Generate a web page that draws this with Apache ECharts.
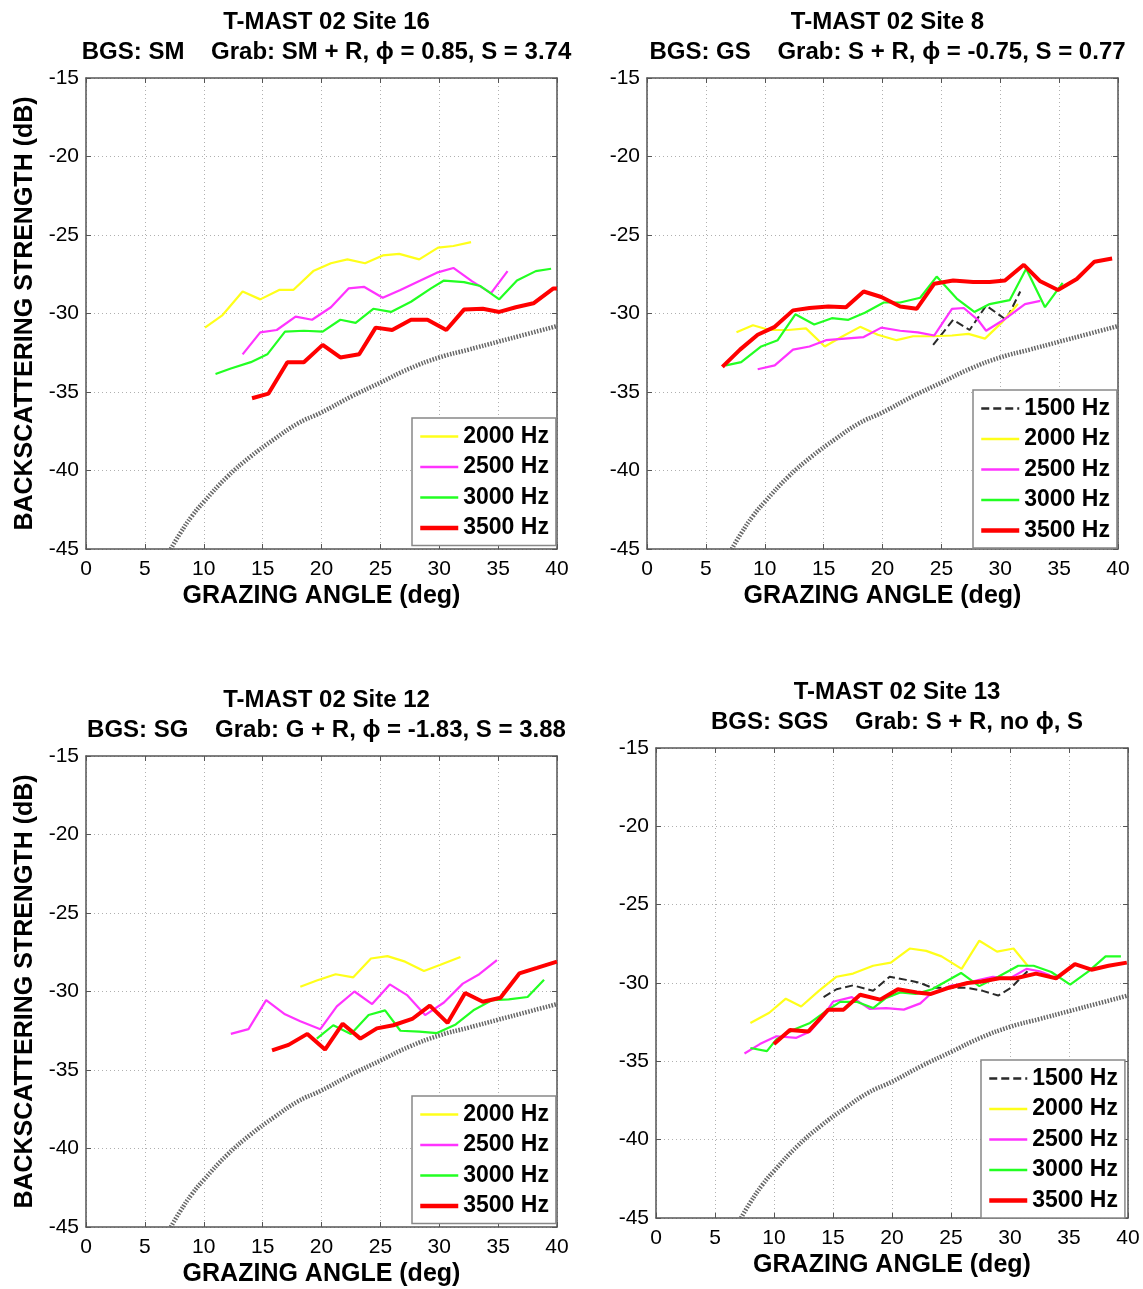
<!DOCTYPE html>
<html><head><meta charset="utf-8">
<script src="https://cdn.jsdelivr.net/npm/echarts@6/dist/echarts.min.js"></script>
<style>html,body{margin:0;padding:0;background:#fff}#c{width:1143px;height:1289px}</style>
</head><body><div id="c"></div>
<script>
// ---------- DATA ----------
const xTicks = [0, 5, 10, 15, 20, 25, 30, 35, 40];
const yTicks = [-15, -20, -25, -30, -35, -40, -45];

// model curve (grey dotted), same in all panels: [grazing angle, dB]
const modelCurve = [[7.2,-45.0],[8,-44.0],[9,-42.9],[10,-42.0],[12,-40.4],[14,-39.1],[16,-38.0],[18,-37.0],[20,-36.3],[22.5,-35.3],[25,-34.4],[27.5,-33.5],[30,-32.8],[32.5,-32.3],[35,-31.8],[37.5,-31.3],[40,-30.8]];

// Site 16
const site16_f2000 = [[10.1,-30.9],[11.6,-30.1],[13.3,-28.6],[14.8,-29.1],[16.4,-28.5],[17.6,-28.5],[19.3,-27.3],[20.8,-26.8],[22.2,-26.55],[23.7,-26.8],[25.2,-26.3],[26.6,-26.2],[28.3,-26.55],[29.9,-25.8],[31.2,-25.7],[32.7,-25.45]];
const site16_f2500 = [[13.3,-32.6],[14.8,-31.2],[16.2,-31.05],[17.8,-30.2],[19.2,-30.4],[20.8,-29.6],[22.3,-28.4],[23.6,-28.3],[25.2,-29.0],[26.7,-28.5],[28.4,-27.9],[29.8,-27.4],[31.2,-27.1],[32.8,-27.95],[34.4,-28.7],[35.8,-27.3]];
const site16_f3000 = [[11.0,-33.85],[12.3,-33.5],[14.0,-33.1],[15.4,-32.6],[16.9,-31.15],[18.5,-31.1],[20.1,-31.15],[21.6,-30.4],[22.9,-30.6],[24.4,-29.7],[25.9,-29.9],[27.6,-29.25],[29.3,-28.4],[30.4,-27.9],[32.1,-28.0],[33.5,-28.25],[35.1,-29.1],[36.6,-27.9],[38.2,-27.3],[39.5,-27.15]];
const site16_f3500 = [[14.1,-35.4],[15.5,-35.1],[17.1,-33.1],[18.5,-33.1],[20.1,-32.0],[21.6,-32.8],[23.2,-32.6],[24.6,-30.9],[26.0,-31.05],[27.6,-30.4],[29.0,-30.4],[30.6,-31.05],[32.1,-29.75],[33.7,-29.7],[35.1,-29.9],[36.5,-29.6],[38.0,-29.35],[39.7,-28.4],[40.0,-28.4]];

// Site 8
const site8_f1500 = [[24.3,-32.0],[26.0,-30.4],[27.4,-31.05],[28.8,-29.5],[30.5,-30.4],[31.7,-28.6]];
const site8_f2000 = [[7.6,-31.2],[9.0,-30.75],[10.4,-31.05],[12.0,-31.05],[13.5,-30.95],[15.1,-32.1],[16.5,-31.5],[18.1,-30.85],[19.6,-31.35],[21.2,-31.7],[22.6,-31.45],[24.3,-31.45],[25.9,-31.4],[27.3,-31.3],[28.7,-31.6],[30.1,-30.6],[31.5,-29.4]];
const site8_f2500 = [[9.4,-33.55],[10.85,-33.3],[12.4,-32.3],[13.8,-32.1],[15.2,-31.7],[16.8,-31.6],[18.4,-31.5],[19.9,-30.9],[21.5,-31.1],[23.0,-31.2],[24.4,-31.4],[25.9,-29.7],[26.9,-29.65],[28.1,-30.4],[28.8,-31.1],[30.3,-30.4],[32.1,-29.4],[33.4,-29.2]];
const site8_f3000 = [[6.7,-33.3],[8.0,-33.1],[9.7,-32.1],[11.1,-31.7],[12.6,-30.05],[14.2,-30.7],[15.7,-30.3],[17.1,-30.4],[18.5,-29.95],[20.1,-29.3],[21.5,-29.3],[23.2,-29.0],[24.6,-27.65],[26.3,-29.05],[27.8,-29.9],[29.1,-29.4],[30.8,-29.15],[32.2,-27.15],[33.8,-29.6],[35.3,-28.05]];
const site8_f3500 = [[6.4,-33.4],[7.9,-32.3],[9.4,-31.35],[10.85,-30.85],[12.4,-29.8],[13.8,-29.65],[15.4,-29.55],[16.9,-29.6],[18.4,-28.6],[19.9,-28.95],[21.5,-29.55],[22.9,-29.7],[24.4,-28.1],[26.0,-27.9],[27.7,-28.0],[29.1,-28.0],[30.4,-27.9],[32.0,-26.9],[33.4,-27.95],[34.9,-28.5],[36.5,-27.8],[38.0,-26.7],[39.5,-26.5]];

// Site 12
const site12_f2000 = [[18.2,-29.7],[19.6,-29.3],[21.2,-28.9],[22.7,-29.1],[24.2,-27.9],[25.6,-27.75],[27.1,-28.1],[28.7,-28.7],[30.1,-28.3],[31.8,-27.8]];
const site12_f2500 = [[12.3,-32.7],[13.8,-32.4],[15.3,-30.55],[16.9,-31.45],[18.2,-31.9],[19.9,-32.4],[21.3,-30.95],[22.8,-30.0],[24.3,-30.8],[25.8,-29.55],[27.3,-30.25],[28.8,-31.5],[30.4,-30.7],[32.0,-29.5],[33.4,-28.9],[34.9,-28.0]];
const site12_f3000 = [[19.6,-33.0],[21.0,-32.15],[22.5,-32.7],[24.0,-31.5],[25.4,-31.2],[26.7,-32.5],[28.3,-32.55],[29.8,-32.65],[31.4,-32.1],[32.9,-31.2],[34.5,-30.55],[35.9,-30.5],[37.5,-30.35],[38.9,-29.25]];
const site12_f3500 = [[15.8,-33.75],[17.2,-33.4],[18.8,-32.7],[20.3,-33.7],[21.8,-32.05],[23.3,-33.0],[24.7,-32.35],[26.1,-32.15],[27.7,-31.75],[29.2,-30.9],[30.7,-32.0],[32.2,-30.1],[33.7,-30.65],[35.2,-30.4],[36.8,-28.85],[38.3,-28.5],[40.0,-28.1]];

// Site 13
const site13_f1500 = [[14.2,-30.9],[15.3,-30.4],[16.7,-30.15],[18.4,-30.5],[19.8,-29.6],[21.2,-29.8],[22.4,-30.0],[23.4,-30.3],[24.9,-30.3],[26.3,-30.3],[27.7,-30.5],[29.0,-30.8],[30.1,-30.3],[31.0,-29.6],[31.7,-29.1]];
const site13_f2000 = [[8.0,-32.55],[9.6,-31.9],[11.0,-31.0],[12.3,-31.5],[13.8,-30.5],[15.3,-29.6],[16.7,-29.4],[18.4,-28.9],[19.9,-28.7],[21.5,-27.8],[22.9,-27.95],[24.2,-28.3],[25.9,-29.1],[27.4,-27.3],[28.9,-28.0],[30.3,-27.8],[31.5,-28.9]];
const site13_f2500 = [[7.5,-34.5],[8.8,-33.9],[10.2,-33.4],[11.9,-33.5],[13.05,-33.1],[14.0,-32.3],[15.0,-31.2],[16.6,-30.9],[18.1,-31.65],[19.5,-31.6],[21.0,-31.7],[22.4,-31.3],[23.2,-30.75],[24.85,-30.2],[26.3,-30.0],[27.4,-29.8],[28.55,-29.6],[30.0,-29.7],[31.4,-29.1],[32.5,-29.25],[33.4,-29.5]];
const site13_f3000 = [[8.0,-34.15],[9.4,-34.35],[10.2,-33.6],[11.6,-33.0],[13.05,-32.55],[14.5,-31.75],[15.6,-31.2],[17.0,-31.2],[18.4,-31.6],[19.5,-30.95],[20.7,-30.6],[22.0,-30.7],[23.4,-30.4],[25.85,-29.36],[27.4,-30.2],[29.0,-29.6],[30.7,-28.9],[32.0,-28.9],[33.5,-29.3],[35.1,-30.1],[36.65,-29.26],[38.1,-28.3],[39.4,-28.3]];
const site13_f3500 = [[10.0,-33.9],[11.35,-33.0],[12.9,-33.1],[14.6,-31.7],[15.9,-31.7],[17.3,-30.75],[19.0,-31.06],[20.5,-30.4],[22.1,-30.6],[23.3,-30.7],[24.85,-30.3],[26.4,-30.0],[27.6,-29.9],[29.1,-29.7],[30.5,-29.7],[32.2,-29.4],[33.9,-29.7],[35.5,-28.8],[36.9,-29.15],[38.35,-28.9],[39.9,-28.7]];

const panelTitles = [
  ['T-MAST 02 Site 16', 'BGS: SM    Grab: SM + R, \u03D5 = 0.85, S = 3.74'],
  ['T-MAST 02 Site 8',  'BGS: GS    Grab: S + R, \u03D5 = -0.75, S = 0.77'],
  ['T-MAST 02 Site 12', 'BGS: SG    Grab: G + R, \u03D5 = -1.83, S = 3.88'],
  ['T-MAST 02 Site 13', 'BGS: SGS    Grab: S + R, no \u03D5, S']
];
const panelSeries = [
  {'2000 Hz': site16_f2000, '2500 Hz': site16_f2500, '3000 Hz': site16_f3000, '3500 Hz': site16_f3500},
  {'1500 Hz': site8_f1500, '2000 Hz': site8_f2000, '2500 Hz': site8_f2500, '3000 Hz': site8_f3000, '3500 Hz': site8_f3500},
  {'2000 Hz': site12_f2000, '2500 Hz': site12_f2500, '3000 Hz': site12_f3000, '3500 Hz': site12_f3500},
  {'1500 Hz': site13_f1500, '2000 Hz': site13_f2000, '2500 Hz': site13_f2500, '3000 Hz': site13_f3000, '3500 Hz': site13_f3500}
];

// ---------- LAYOUT / STYLE ----------
const FONT = '"Liberation Sans", Arial, Helvetica, sans-serif';
const layout = [
  {left:86,  top:78,  width:471, height:471, t1:5,   t2:35,  legL:412, legT:418, yName:true},
  {left:647, top:78,  width:471, height:471, t1:5,   t2:35,  legL:973, legT:390, yName:false},
  {left:86,  top:756, width:471, height:471, t1:683, t2:713, legL:412, legT:1096, yName:true},
  {left:656, top:748, width:472, height:470, t1:675, t2:705, legL:981, legT:1060, yName:false}
];
const freqStyle = {
  '1500 Hz': {color:'#2a2a2a', width:2, type:[8,4]},
  '2000 Hz': {color:'#ffff1a', width:2.2, type:'solid'},
  '2500 Hz': {color:'#ff33ff', width:2.2, type:'solid'},
  '3000 Hz': {color:'#22ff22', width:2.2, type:'solid'},
  '3500 Hz': {color:'#ff0000', width:4, type:'solid'}
};

const grid = [], xAxis = [], yAxis = [], series = [], title = [], legend = [];
const frameColor = '#555';
layout.forEach((L, i) => {
  grid.push({left:L.left, top:L.top, width:L.width, height:L.height, show:false});
  const cx = L.left + L.width / 2;
  title.push({text: panelTitles[i][0], left: cx, top: L.t1, textAlign:'center',
    textStyle:{fontFamily:FONT, fontSize:24, fontWeight:'bold', color:'#000'}});
  title.push({text: panelTitles[i][1], left: cx, top: L.t2, textAlign:'center',
    textStyle:{fontFamily:FONT, fontSize:24, fontWeight:'bold', color:'#000'}});
  const common = {min: xTicks[0], max: xTicks[xTicks.length-1], interval: 5, gridIndex: i};
  xAxis.push(Object.assign({}, common, {type:'value', position:'bottom',
    name:'GRAZING ANGLE (deg)', nameLocation:'middle', nameGap:35,
    nameTextStyle:{fontFamily:FONT, fontSize:25, fontWeight:'bold', color:'#000'},
    axisLine:{show:true, onZero:false, lineStyle:{color:frameColor, width:1.5}},
    axisTick:{show:true, inside:true, length:5, lineStyle:{color:frameColor}},
    axisLabel:{fontFamily:FONT, fontSize:21, color:'#000', margin:10},
    splitLine:{show:true, lineStyle:{color:'#b0b0b0', type:[1,3], width:1}}}));
  xAxis.push(Object.assign({}, common, {type:'value', position:'top',
    axisLine:{show:true, onZero:false, lineStyle:{color:frameColor, width:1.5}},
    axisTick:{show:true, inside:true, length:5, lineStyle:{color:frameColor}},
    axisLabel:{show:false}, splitLine:{show:false}}));
  const ycommon = {min: yTicks[yTicks.length-1], max: yTicks[0], interval: 5, gridIndex: i};
  yAxis.push(Object.assign({}, ycommon, {type:'value', position:'left',
    name: L.yName ? 'BACKSCATTERING STRENGTH (dB)' : '', nameLocation:'middle', nameGap:48, nameRotate:90,
    nameTextStyle:{fontFamily:FONT, fontSize:25, fontWeight:'bold', color:'#000'},
    axisLine:{show:true, onZero:false, lineStyle:{color:frameColor, width:1.5}},
    axisTick:{show:true, inside:true, length:5, lineStyle:{color:frameColor}},
    axisLabel:{fontFamily:FONT, fontSize:21, color:'#000', margin:7},
    splitLine:{show:true, lineStyle:{color:'#b0b0b0', type:[1,3], width:1}}}));
  yAxis.push(Object.assign({}, ycommon, {type:'value', position:'right',
    axisLine:{show:true, onZero:false, lineStyle:{color:frameColor, width:1.5}},
    axisTick:{show:true, inside:true, length:5, lineStyle:{color:frameColor}},
    axisLabel:{show:false}, splitLine:{show:false}}));

  const xi = i * 2, yi = i * 2;
  series.push({type:'line', name:'model', data: modelCurve, xAxisIndex:xi, yAxisIndex:yi,
    symbol:'none', smooth:true, silent:true,
    lineStyle:{color:'#666', width:4.5, type:[1.5,1.5]}});
  const names = Object.keys(panelSeries[i]);
  names.forEach(n => {
    const st = freqStyle[n];
    series.push({type:'line', name:n, data: panelSeries[i][n], xAxisIndex:xi, yAxisIndex:yi,
      symbol:'none', color: st.color, itemStyle:{opacity:0},
      lineStyle:{color:st.color, width:st.width, type:st.type}});
  });
  legend.push({left:L.legL, top:L.legT, orient:'vertical',
    data: names.map(n => ({name:n, itemStyle:{opacity:0},
      lineStyle:{color:freqStyle[n].color, width:freqStyle[n].width + 0.5, type:freqStyle[n].type}})),
    selectedMode:false,
    itemWidth:38, itemHeight:20, itemGap:7.5, backgroundColor:'#fff',
    itemStyle:{opacity:0},
    borderColor:'#888', borderWidth:1.5, padding:[7,7,6,6],
    textStyle:{fontFamily:FONT, fontSize:23, fontWeight:'bold', color:'#000'}});
});

const chart = echarts.init(document.getElementById('c'), null, {renderer:'canvas'});
chart.setOption({animation:false, backgroundColor:'#fff', title, grid, xAxis, yAxis, legend, series});
</script></body></html>
